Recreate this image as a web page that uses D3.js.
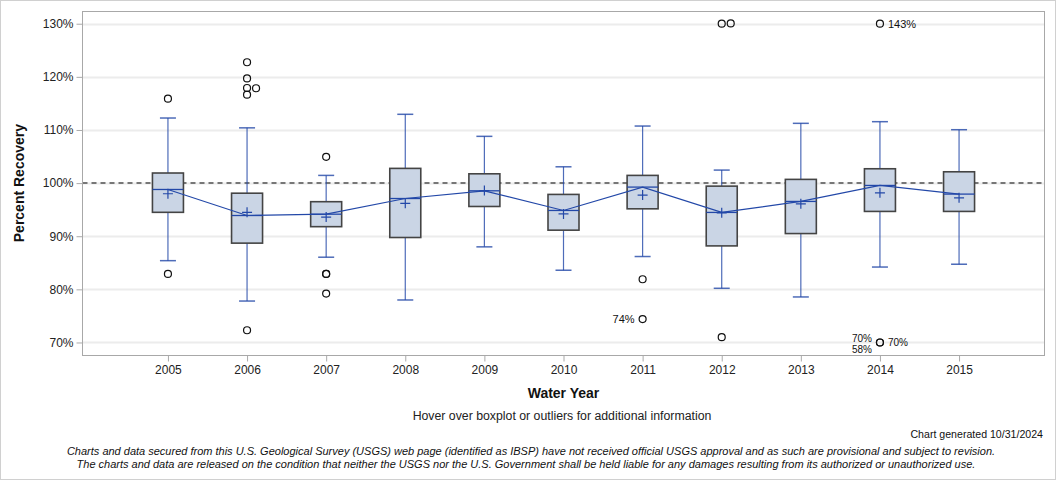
<!DOCTYPE html>
<html><head><meta charset="utf-8">
<script src="https://cdn.jsdelivr.net/npm/d3@7/dist/d3.min.js"></script>
<style>
body{margin:0;background:#fff;}
svg{display:block;font-family:"Liberation Sans",Arial,sans-serif;}
</style></head>
<body>
<svg id="c" width="1056" height="480"></svg>
<script>
const years = [2005,2006,2007,2008,2009,2010,2011,2012,2013,2014,2015];
const whiskerHigh = [112.25,110.4,101.45,112.95,108.8,103.07,110.74,102.45,111.25,111.56,110.05];
const q3 =          [101.9,98.1,96.5,102.77,101.75,97.87,101.45,99.43,100.7,102.7,102.13];
const median =      [98.8,93.9,94.15,97.1,98.55,94.85,99.25,94.48,96.55,99.56,97.93];
const mean =        [98.0,94.5,93.6,96.2,98.6,94.2,97.74,94.4,96.1,98.17,97.23];
const q1 =          [94.5,88.7,91.8,89.76,95.6,91.14,95.16,88.18,90.5,94.67,94.67];
const whiskerLow =  [85.4,77.8,86.05,78.0,88.0,83.6,86.18,80.2,78.57,84.2,84.73];
const outlierYears =  [2005,2005,2006,2006,2006,2006,2006,2006,2007,2007,2007,2007,2011,2011,2012,2012,2012,2014,2014,2014];
const outlierValues = [115.9,82.9,122.75,119.7,117.9,117.85,116.65,72.3,104.95,82.9,82.9,79.2,81.9,74.4,130,130.05,71.0,130,70,70];
const labelYears =  [2011,2014,2014,2014,2014];
const labelValues = [74.4,130,70,70,70];
const labelTexts =  ["74%","143%","70%","58%","70%"];
const labelSides =  ["left","right","left","left","right"];
const yTicks = [70,80,90,100,110,120,130];

const svg = d3.select("#c");
const W=1056,H=480;
const L=82.5,R=1044.5,T=11.5,B=355.5;

svg.append("rect").attr("x",0.5).attr("y",0.5).attr("width",W-1).attr("height",H-1)
  .attr("fill","#fff").attr("stroke","#d0d0d0");

const x = d3.scalePoint().domain(years).range([L,R]).padding(1.08);
const y = d3.scaleLinear().domain([67.55,132.3]).range([B,T]);

// gridlines
svg.append("g").selectAll("line").data(yTicks).join("line")
  .attr("x1",L).attr("x2",R).attr("y1",d=>Math.round(y(d))+0.5).attr("y2",d=>Math.round(y(d))+0.5)
  .attr("stroke","#ececec").attr("stroke-width",2);

// reference line
svg.append("line").attr("x1",L).attr("x2",R).attr("y1",y(100)).attr("y2",y(100))
  .attr("stroke","#777").attr("stroke-width",2).attr("stroke-dasharray","5,4");

// axes
const yAxis = d3.axisLeft(y).tickValues(yTicks).tickSize(6).tickPadding(3).tickFormat(d=>d+"%");
const gy = svg.append("g").attr("transform",`translate(${L},0)`).call(yAxis);
gy.select(".domain").remove();
gy.selectAll(".tick line").attr("stroke","#aaa");
gy.selectAll(".tick text").attr("font-size",12).attr("fill","#222").attr("font-family","'Liberation Sans',Arial,sans-serif");

const xAxis = d3.axisBottom(x).tickSize(6).tickPadding(4);
const gx = svg.append("g").attr("transform",`translate(0,${B})`).call(xAxis);
gx.select(".domain").remove();
gx.selectAll(".tick line").attr("stroke","#aaa");
gx.selectAll(".tick text").attr("font-size",12).attr("fill","#222").attr("font-family","'Liberation Sans',Arial,sans-serif");

// frame
svg.append("rect").attr("x",L).attr("y",T).attr("width",R-L).attr("height",B-T)
  .attr("fill","none").attr("stroke","#a8a8a8");

const blue="#2348a8";
const bw=31, cw=16;
const g = svg.append("g");
years.forEach((yr,i)=>{
  const cx=x(yr);
  g.append("line").attr("x1",cx).attr("x2",cx).attr("y1",y(whiskerHigh[i])).attr("y2",y(q3[i])).attr("stroke",blue).attr("stroke-width",1.2).attr("opacity",0.8);
  g.append("line").attr("x1",cx).attr("x2",cx).attr("y1",y(q1[i])).attr("y2",y(whiskerLow[i])).attr("stroke",blue).attr("stroke-width",1.2).attr("opacity",0.8);
  g.append("line").attr("x1",cx-cw/2).attr("x2",cx+cw/2).attr("y1",y(whiskerHigh[i])).attr("y2",y(whiskerHigh[i])).attr("stroke",blue).attr("stroke-width",1.5).attr("opacity",0.8);
  g.append("line").attr("x1",cx-cw/2).attr("x2",cx+cw/2).attr("y1",y(whiskerLow[i])).attr("y2",y(whiskerLow[i])).attr("stroke",blue).attr("stroke-width",1.5).attr("opacity",0.8);
  g.append("rect").attr("x",cx-bw/2).attr("y",y(q3[i])).attr("width",bw).attr("height",y(q1[i])-y(q3[i]))
    .attr("fill","#cad5e5").attr("stroke","#444").attr("stroke-width",1.6);
  g.append("line").attr("x1",cx-bw/2).attr("x2",cx+bw/2).attr("y1",y(median[i])).attr("y2",y(median[i])).attr("stroke",blue).attr("stroke-width",1.3);
  const my=y(mean[i]);
  g.append("path").attr("d",`M${cx-5},${my}H${cx+5}M${cx},${my-5}V${my+5}`).attr("stroke",blue).attr("stroke-width",1.2).attr("fill","none");
});

// median connect line
svg.append("path").datum(years.map((yr,i)=>[x(yr),y(median[i])]))
  .attr("d",d3.line()).attr("fill","none").attr("stroke",blue).attr("stroke-width",1.2);

// outliers with simple jitter for near-identical values
const placed=[];
outlierYears.forEach((yr,i)=>{
  let cx=x(yr); const cy=y(outlierValues[i]);
  const clash = placed.filter(p=>p.yr===yr && Math.abs(p.cy-cy)<2 && Math.abs(p.cy-cy)>0.05);
  if(clash.length) cx+=9;
  placed.push({yr,cy,cx});
  svg.append("circle").attr("cx",cx).attr("cy",cy).attr("r",3.5)
    .attr("fill","none").attr("stroke","#111").attr("stroke-width",1.2);
});

// outlier labels
const leftCount={};
labelYears.forEach((yr,i)=>{
  const cx=x(yr); let cy=y(labelValues[i]);
  const fs = (yr===2014 && labelValues[i]<=70) ? 10 : 11;
  if(labelSides[i]==="left" && yr===2014 && labelValues[i]<=70){
    const k=leftCount[yr]||0;
    cy = cy - 4 + k*11;
    leftCount[yr]=k+1;
  }
  svg.append("text").attr("x",labelSides[i]==="left"?cx-8:cx+8).attr("y",cy+fs*0.36)
    .attr("text-anchor",labelSides[i]==="left"?"end":"start")
    .attr("font-size",fs).attr("fill","#111").text(labelTexts[i]);
});

// titles
svg.append("text").attr("transform",`translate(24,${y(100)}) rotate(-90)`)
  .attr("text-anchor","middle").attr("font-size",14).attr("font-weight","bold").attr("fill","#111").text("Percent Recovery");
svg.append("text").attr("x",(L+R)/2).attr("y",398).attr("text-anchor","middle")
  .attr("font-size",14).attr("font-weight","bold").attr("fill","#111").text("Water Year");
svg.append("text").attr("x",562).attr("y",420).attr("text-anchor","middle")
  .attr("font-size",12.3).attr("fill","#222").text("Hover over boxplot or outliers for additional information");
svg.append("text").attr("x",1043).attr("y",438).attr("text-anchor","end")
  .attr("font-size",10.6).attr("fill","#111").text("Chart generated 10/31/2024");
svg.append("text").attr("x",531).attr("y",455).attr("text-anchor","middle")
  .attr("font-size",11).attr("font-style","italic").attr("fill","#111")
  .text("Charts and data secured from this U.S. Geological Survey (USGS) web page (identified as IBSP) have not received official USGS approval and as such are provisional and subject to revision.");
svg.append("text").attr("x",526).attr("y",468).attr("text-anchor","middle")
  .attr("font-size",11).attr("font-style","italic").attr("fill","#111")
  .text("The charts and data are released on the condition that neither the USGS nor the U.S. Government shall be held liable for any damages resulting from its authorized or unauthorized use.");
</script>
</body></html>
